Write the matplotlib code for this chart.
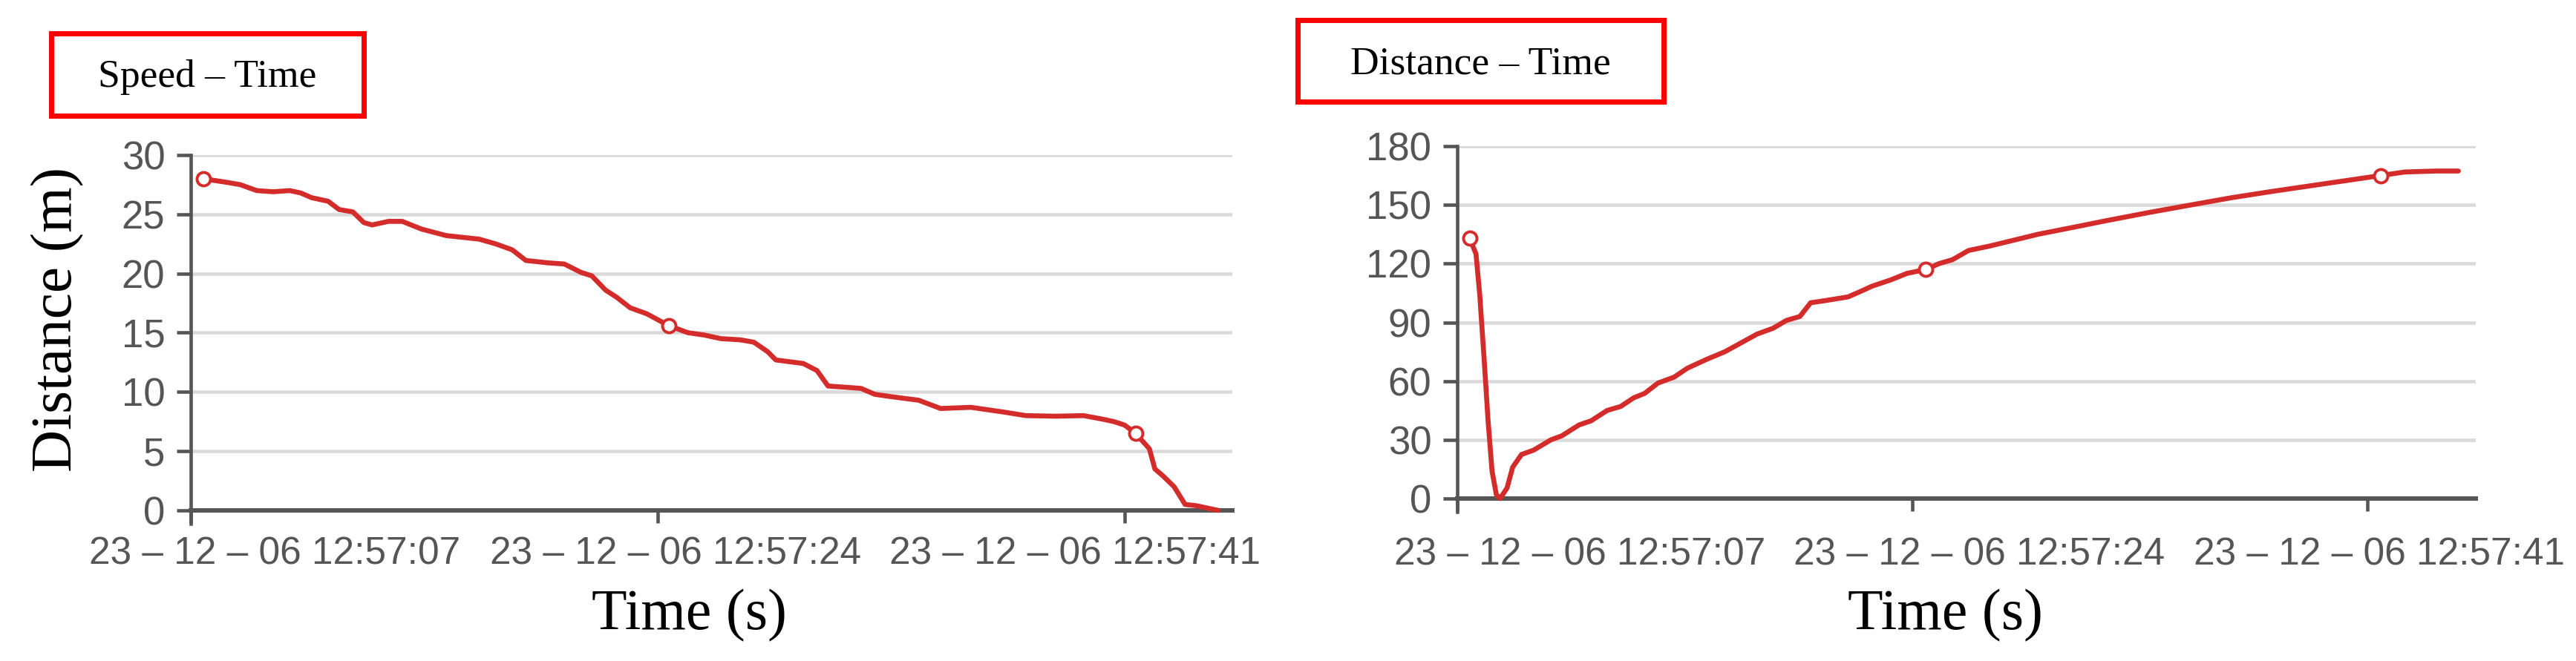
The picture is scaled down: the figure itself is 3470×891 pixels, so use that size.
import matplotlib
matplotlib.use("Agg")
import matplotlib.pyplot as plt
from matplotlib.patches import Rectangle

# speed - time (left panel), seconds after 12:57:00
speed_t = [7.45, 8.3, 8.8, 9.4, 10.0, 10.6, 11.0, 11.4, 12.0, 12.4, 12.9, 13.3, 13.6,
           14.2, 14.7, 15.4, 16.3, 17.5, 18.1, 18.7, 19.2, 20.0, 20.6, 21.2, 21.6,
           22.1, 22.5, 23.0, 23.6, 24.0, 24.4, 25.1, 25.7, 26.3, 27.0, 27.5, 28.0,
           28.3, 29.3, 29.8, 30.2, 31.4, 31.9, 32.5, 33.5, 34.3, 35.4, 36.6, 37.4,
           38.5, 39.5, 40.2, 40.6, 41.0, 41.4, 41.9, 42.1, 42.4, 42.8, 43.2, 43.6, 44.4]
speed_v = [28.0, 27.7, 27.5, 27.0, 26.9, 27.0, 26.8, 26.4, 26.1, 25.4, 25.2, 24.3, 24.1,
           24.4, 24.4, 23.75, 23.2, 22.9, 22.5, 22.0, 21.1, 20.9, 20.8, 20.1, 19.8,
           18.6, 18.0, 17.1, 16.6, 16.1, 15.6, 15.0, 14.8, 14.5, 14.4, 14.2, 13.4,
           12.7, 12.4, 11.8, 10.5, 10.3, 9.8, 9.6, 9.3, 8.6, 8.7, 8.3, 8.0,
           7.95, 8.0, 7.7, 7.5, 7.2, 6.5, 5.2, 3.5, 2.9, 2.0, 0.5, 0.4, 0.0]
speed_marks = [7.45, 24.4, 41.4]

# distance - time (right panel)
dist_t = [7.46, 7.7, 7.84, 8.0, 8.15, 8.3, 8.46, 8.6, 8.86, 9.07, 9.4, 9.85, 10.5,
          10.9, 11.55, 12.0, 12.6, 13.1, 13.6, 14.0, 14.5, 15.1, 15.6, 16.3, 17.0,
          17.4, 18.2, 18.8, 19.3, 19.8, 20.2, 20.7, 21.6, 22.1, 22.5, 23.2, 23.8,
          24.5, 25.0, 25.5, 26.1, 26.9, 27.8, 28.7, 30.0, 31.2, 32.8, 34.3, 35.9,
          37.4, 39.0, 40.5, 41.5, 42.4, 43.6, 44.4]
dist_v = [133, 125, 104, 72, 40, 14, 2, 0, 5.4, 16, 22.5, 24.7, 30,
          32, 37.6, 39.7, 45, 47, 51.5, 53.7, 59, 62, 66.6, 71, 75,
          78, 84, 87, 91, 93, 100, 101, 103, 106, 108.5, 111.7, 115,
          117, 120, 122, 126.7, 129, 132, 135, 138.5, 141.8, 146, 149.7, 153.6,
          156.8, 160, 163, 165, 166.8, 167.3, 167.3]
dist_marks = [7.46, 24.5, 41.5]

tick_secs = [7, 24, 41]
tick_text = ["23 – 12 – 06 12:57:07", "23 – 12 – 06 12:57:24", "23 – 12 – 06 12:57:41"]
speed_yticks = [0, 5, 10, 15, 20, 25, 30]
dist_yticks = [0, 30, 60, 90, 120, 150, 180]

W, H = 3470, 891
RED = "#d42b2b"
AXC = "#555555"
SANS = ["Liberation Sans", "DejaVu Sans"]
SERIF = ["Liberation Serif", "DejaVu Serif"]

fig = plt.figure(figsize=(W / 100, H / 100), dpi=100)


def make_panel(rect, xs, ys, marks, yticks, ylo, xlim, label_pos, label_pad):
    ax = fig.add_axes(rect)
    idx = [xs.index(m) for m in marks]
    ax.plot(xs, ys, color=RED, lw=4.8, solid_joinstyle="round", solid_capstyle="round",
            marker="o", markevery=idx, ms=13, mfc="white", mec=RED, mew=2.8, zorder=3)
    ax.set_xlim(*xlim)
    ax.set_ylim(ylo, yticks[-1])
    for s in ["top", "right"]:
        ax.spines[s].set_visible(False)
    ax.spines["bottom"].set_position(("data", 0))
    ax.spines["bottom"].set_color(AXC)
    ax.spines["bottom"].set_linewidth(4.3)
    ax.spines["left"].set_color(AXC)
    ax.spines["left"].set_linewidth(3.3)
    ax.set_yticks(yticks)
    ax.set_yticklabels([str(v) for v in yticks], family=SANS, fontsize=38, color=AXC)
    ax.tick_params(axis="y", length=14, width=3.3, color=AXC, pad=11)
    ax.set_xticks(tick_secs)
    ax.set_xticklabels([])
    ax.tick_params(axis="x", which="major", length=12.5, width=3.3, color=AXC)
    ax.set_xticks(label_pos, tick_text, minor=True)
    ax.tick_params(axis="x", which="minor", length=0, pad=label_pad, labelsize=37,
                   labelcolor=AXC)
    for t in ax.get_xticklabels(minor=True):
        t.set_family(SANS)
    for v in yticks[1:]:
        ax.axhline(v, color="#dadada", lw=3.3, zorder=1)
    return ax


ax1 = make_panel([257 / W, (H - 706) / H, 1403 / W, (706 - 209) / H],
                 speed_t, speed_v, speed_marks, speed_yticks, -1.13, (7, 44.92),
                 [10.05, 24.65, 39.19], 25)
ax2 = make_panel([1963 / W, (H - 690) / H, 1372 / W, (690 - 197) / H],
                 dist_t, dist_v, dist_marks, dist_yticks, -6.82, (7, 45.05),
                 [11.58, 26.5, 41.44], 37)

# title boxes
for (x0, y0, x1, y1), txt in [((69, 45, 490, 156), "Speed – Time"),
                               ((1748, 27, 2241, 137), "Distance – Time")]:
    fig.patches.append(Rectangle((x0 / W, 1 - y1 / H), (x1 - x0) / W, (y1 - y0) / H,
                                 transform=fig.transFigure, fill=False,
                                 edgecolor="#ff0000", lw=5))
    fig.text((x0 + x1) / 2 / W, 1 - ((y0 + y1) / 2 + 4) / H, txt, family=SERIF,
             fontsize=38.5, ha="center", va="center", color="black")

fig.text(78 / W, 1 - 431 / H, "Distance (m)", rotation=90, family=SERIF,
         fontsize=57, ha="center", va="center")
fig.text(928 / W, 1 - 830 / H, "Time (s)", family=SERIF, fontsize=56,
         ha="center", va="center")
fig.text(2620 / W, 1 - 830 / H, "Time (s)", family=SERIF, fontsize=56,
         ha="center", va="center")

fig.savefig("out.png", dpi=100, facecolor="white")
